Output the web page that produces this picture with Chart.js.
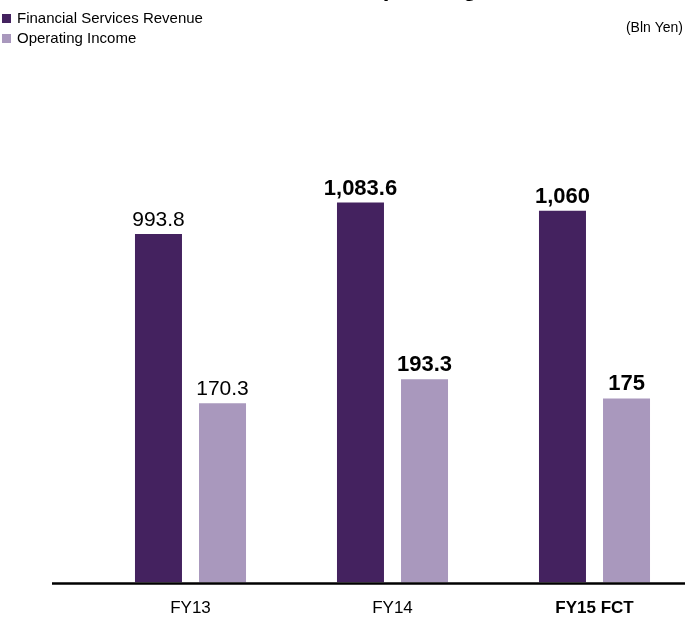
<!DOCTYPE html>
<html>
<head>
<meta charset="utf-8">
<script src="https://cdn.jsdelivr.net/npm/chart.js@4.4.1/dist/chart.umd.min.js"></script>
<style>
  html, body { margin: 0; padding: 0; background: #ffffff; overflow: hidden; }
  #wrap { position: relative; width: 696px; height: 624px; }
</style>
</head>
<body>
<div id="wrap"><canvas id="c"></canvas></div>
<script>
const categories = ['FY13', 'FY14', 'FY15 FCT'];
const revenueValues = [993.8, 1083.6, 1060];
const incomeValues = [170.3, 193.3, 175];
const seriesNames = ['Financial Services Revenue', 'Operating Income'];
const titleText = 'Financial Services Revenue and Operating Income';
const unitText = '(Bln Yen)';

const FONT = '"Liberation Sans", Arial, Helvetica, sans-serif';
const DARK = '#44225f';
const LIGHT = '#a998bd';

const fmt = v => v.toLocaleString('en-US', { maximumFractionDigits: 1 });

const decor = {
  id: 'decor',
  afterDatasetsDraw(chart) {
    const ctx = chart.ctx;
    ctx.save();
    chart.data.datasets.forEach((ds, di) => {
      const meta = chart.getDatasetMeta(di);
      meta.data.forEach((bar, i) => {
        const bold = i >= 1;
        ctx.font = (bold ? 'bold 22px ' : '21px ') + FONT;
        ctx.fillStyle = '#000';
        ctx.textAlign = 'center';
        ctx.textBaseline = 'alphabetic';
        ctx.fillText(fmt(ds.data[i]), bar.x, bar.y - 8);
      });
    });
    const yb = chart.scales.y.getPixelForValue(0);
    ctx.strokeStyle = '#000';
    ctx.lineWidth = 2.5;
    ctx.beginPath();
    ctx.moveTo(52, yb + 1);
    ctx.lineTo(685, yb + 1);
    ctx.stroke();
    ctx.restore();
  },
  afterDraw(chart) {
    const ctx = chart.ctx;
    ctx.save();
    ctx.font = 'bold 24px ' + FONT;
    ctx.fillStyle = '#000';
    ctx.textAlign = 'left';
    ctx.textBaseline = 'alphabetic';
    const pre = 'Financial Services Revenue and ';
    const x0 = 364 - ctx.measureText(pre).width;
    ctx.fillText(titleText, x0, -4);
    const colors = [DARK, LIGHT];
    ctx.font = '15px ' + FONT;
    ctx.textBaseline = 'middle';
    seriesNames.forEach((n, i) => {
      const cy = 19 + i * 20;
      ctx.fillStyle = colors[i];
      ctx.fillRect(2, cy - 5, 9, 9);
      ctx.fillStyle = '#000';
      ctx.fillText(n, 17, cy);
    });
    ctx.font = '14px ' + FONT;
    ctx.textAlign = 'right';
    ctx.fillText(unitText, 683, 28);
    ctx.restore();
  }
};

new Chart(document.getElementById('c'), {
  type: 'bar',
  data: {
    labels: categories,
    datasets: [
      { label: seriesNames[0], data: revenueValues, backgroundColor: DARK, yAxisID: 'y',
        barPercentage: 0.734, categoryPercentage: 0.634 },
      { label: seriesNames[1], data: incomeValues, backgroundColor: LIGHT, yAxisID: 'y1',
        barPercentage: 0.734, categoryPercentage: 0.634 }
    ]
  },
  options: {
    responsive: true,
    maintainAspectRatio: false,
    animation: false,
    layout: { padding: { left: 89.5, right: 0.5, top: 161.7, bottom: 5.3 } },
    plugins: { legend: { display: false }, tooltip: { enabled: false }, title: { display: false } },
    scales: {
      x: {
        afterFit: (s) => { s.height = 36.2; },
        grid: { display: false, drawTicks: false },
        border: { display: false },
        ticks: {
          padding: 16,
          maxRotation: 0,
          color: '#000',
          font: (c) => ({ family: FONT, size: 17, weight: c.index === 2 ? 'bold' : 'normal' })
        }
      },
      y: { display: false, min: 0, max: 1200 },
      y1: { display: false, position: 'right', min: 0, max: 400 }
    }
  },
  plugins: [decor]
});
</script>
</body>
</html>
